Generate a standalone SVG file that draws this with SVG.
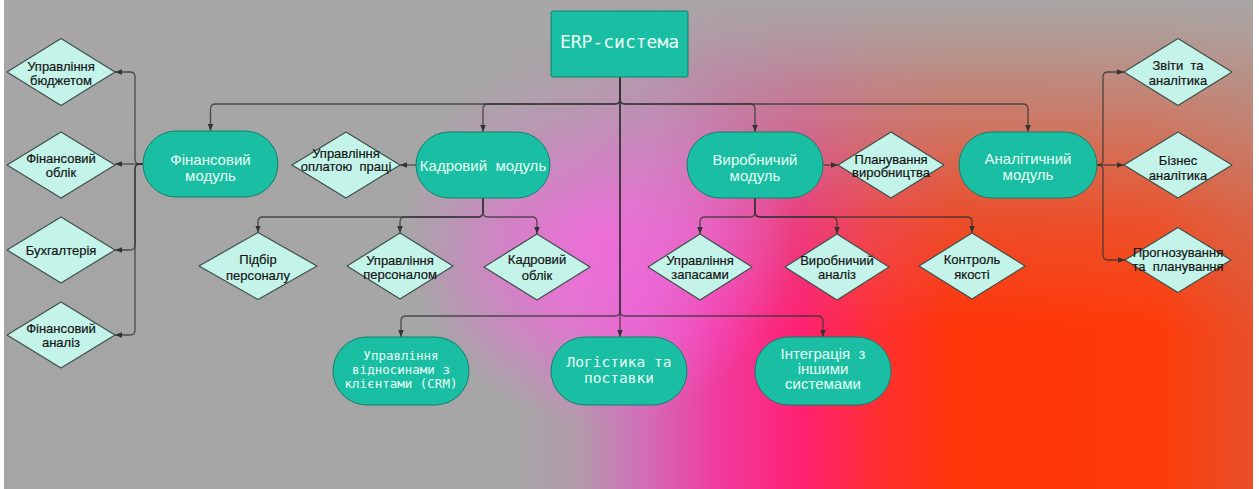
<svg xmlns="http://www.w3.org/2000/svg" width="1259" height="489" viewBox="0 0 1259 489">
  <defs>
    <!-- horizontal base wash: grey to magenta to red -->
    <linearGradient id="bgBase" gradientUnits="userSpaceOnUse" x1="4" y1="0" x2="1253" y2="0">
      <stop offset="0" stop-color="#a5a5a5"/>
      <stop offset="0.41" stop-color="#a6a6a6"/>
      <stop offset="0.46" stop-color="#b29aaa"/>
      <stop offset="0.51" stop-color="#d070b8"/>
      <stop offset="0.57" stop-color="#f03ca0"/>
      <stop offset="0.64" stop-color="#ff2070"/>
      <stop offset="0.70" stop-color="#ff3030"/>
      <stop offset="0.76" stop-color="#ff3408"/>
      <stop offset="0.92" stop-color="#ff3a08"/>
      <stop offset="1" stop-color="#e8502a"/>
    </linearGradient>
    <!-- magenta glow in the middle -->
    <radialGradient id="bgGlow" gradientUnits="userSpaceOnUse" cx="600" cy="230" r="195">
      <stop offset="0" stop-color="#ff5ee6" stop-opacity="0.95"/>
      <stop offset="0.45" stop-color="#ff5ee6" stop-opacity="0.65"/>
      <stop offset="1" stop-color="#ff5ee6" stop-opacity="0"/>
    </radialGradient>
    <!-- grey haze from the top edge -->
    <linearGradient id="bgTop" gradientUnits="userSpaceOnUse" x1="0" y1="0" x2="0" y2="330">
      <stop offset="0" stop-color="#a8a6a6" stop-opacity="1"/>
      <stop offset="0.15" stop-color="#a8a6a6" stop-opacity="0.85"/>
      <stop offset="0.4" stop-color="#a8a6a6" stop-opacity="0.55"/>
      <stop offset="0.67" stop-color="#a8a6a6" stop-opacity="0.22"/>
      <stop offset="1" stop-color="#a8a6a6" stop-opacity="0"/>
    </linearGradient>
    <marker id="arr" viewBox="0 0 8 8" refX="8" refY="4" markerWidth="7" markerHeight="7" orient="auto" markerUnits="userSpaceOnUse">
      <path d="M0,0.8 L8,4 L0,7.2 z" fill="#333"/>
    </marker>
  </defs>
  <style>
    .conn { fill: none; stroke: #333; stroke-opacity: 0.8; stroke-width: 1.3; marker-end: url(#arr); }
    .mod { fill: #19bea3; stroke: #12806d; stroke-width: 1; }
    .dia { fill: #c4f4e9; stroke: #3f4f4a; stroke-width: 1.2; stroke-linejoin: round; }
    .mt { font-family: "Liberation Sans", Arial, sans-serif; font-size: 15px; fill: #e8fff6; text-anchor: middle; }
    .mono { font-family: "DejaVu Sans Mono", "Liberation Mono", monospace; fill: #e8fff6; text-anchor: middle; }
    .dt { font-family: "Liberation Sans", Arial, sans-serif; font-size: 13px; fill: #151515; stroke: #151515; stroke-width: 0.2; text-anchor: middle; }
  </style>

  <!-- background -->
  <rect x="0" y="0" width="1259" height="489" fill="#ffffff"/>
  <rect x="4" y="0" width="1249" height="489" fill="url(#bgBase)"/>
  <rect x="4" y="0" width="1249" height="489" fill="url(#bgGlow)"/>
  <rect x="4" y="0" width="1249" height="489" fill="url(#bgTop)"/>

  <!-- connectors -->
  <g id="connectors">
    <path class="conn" d="M620 77 V99 Q620 104 615 104 H215.5 Q210.5 104 210.5 109 V131"/>
    <path class="conn" d="M620 77 V99 Q620 104 615 104 H488 Q483 104 483 109 V132"/>
    <path class="conn" d="M620 77 V99 Q620 104 625 104 H750 Q755 104 755 109 V132"/>
    <path class="conn" d="M620 77 V99 Q620 104 625 104 H1023 Q1028 104 1028 109 V132"/>
    <path class="conn" d="M620 77 V337"/>
    <path class="conn" d="M620 77 V311 Q620 316 615 316 H406 Q401 316 401 321 V337"/>
    <path class="conn" d="M620 77 V311 Q620 316 625 316 H818 Q823 316 823 321 V337"/>

    <path class="conn" d="M143 164 H115"/>
    <path class="conn" d="M143 164 H140 Q135 164 135 159 V77 Q135 72 130 72 H115"/>
    <path class="conn" d="M143 164 H140 Q135 164 135 169 V245 Q135 250 130 250 H115"/>
    <path class="conn" d="M143 164 H140 Q135 164 135 169 V330 Q135 335 130 335 H115"/>

    <path class="conn" d="M416 165 H400"/>
    <path class="conn" d="M483 198 V212 Q483 217 478 217 H263 Q258 217 258 222 V232.5"/>
    <path class="conn" d="M483 198 V212 Q483 217 478 217 H405 Q400 217 400 222 V233"/>
    <path class="conn" d="M483 198 V212 Q483 217 488 217 H532 Q537 217 537 222 V234"/>

    <path class="conn" d="M823 165 H838"/>
    <path class="conn" d="M755 197 V212 Q755 217 750 217 H705 Q700 217 700 222 V234"/>
    <path class="conn" d="M755 197 V212 Q755 217 760 217 H832 Q837 217 837 222 V234"/>
    <path class="conn" d="M755 197 V212 Q755 217 760 217 H967 Q972 217 972 222 V233"/>

    <path class="conn" d="M1097 165 H1124"/>
    <path class="conn" d="M1097 165 H1098 Q1103 165 1103 160 V77 Q1103 72 1108 72 H1124"/>
    <path class="conn" d="M1097 165 H1098 Q1103 165 1103 170 V255 Q1103 260 1108 260 H1125"/>
  </g>

  <!-- root -->
  <g id="erp">
    <rect class="mod" x="551" y="11" width="137" height="66" rx="2"/>
    <text class="mono" x="619.5" y="48" font-size="18">ERP-система</text>
  </g>

  <!-- modules -->
  <g id="fin-module">
    <rect class="mod" x="143" y="131" width="135" height="66" rx="33"/>
    <text class="mt" x="210.5" y="165">Фінансовий</text>
    <text class="mt" x="210.5" y="181">модуль</text>
  </g>
  <g id="hr-module">
    <rect class="mod" x="416" y="132" width="134" height="66" rx="33"/>
    <text class="mt" x="483" y="171" xml:space="preserve">Кадровий  модуль</text>
  </g>
  <g id="prod-module">
    <rect class="mod" x="687" y="132" width="136" height="66" rx="33"/>
    <text class="mt" x="755" y="165">Виробничий</text>
    <text class="mt" x="755" y="181">модуль</text>
  </g>
  <g id="analytics-module">
    <rect class="mod" x="959" y="132" width="138" height="66" rx="33"/>
    <text class="mt" x="1028" y="164">Аналітичний</text>
    <text class="mt" x="1028" y="180">модуль</text>
  </g>
  <g id="crm">
    <rect class="mod" x="333" y="337" width="136" height="68" rx="34"/>
    <text class="mono" x="401" y="360" font-size="12.5">Управління</text>
    <text class="mono" x="401" y="374" font-size="12.5">відносинами з</text>
    <text class="mono" x="401" y="388" font-size="12.5">клієнтами (CRM)</text>
  </g>
  <g id="logistics">
    <rect class="mod" x="551" y="337" width="136" height="68" rx="34"/>
    <text class="mono" x="619" y="367" font-size="14.5" xml:space="preserve">Логістика та</text>
    <text class="mono" x="619" y="383" font-size="14.5">поставки</text>
  </g>
  <g id="integration">
    <rect class="mod" x="755" y="337" width="136" height="68" rx="34"/>
    <text class="mt" x="823" y="359" font-size="14" xml:space="preserve">Інтеграція  з</text>
    <text class="mt" x="823" y="374" font-size="14">іншими</text>
    <text class="mt" x="823" y="389" font-size="14">системами</text>
  </g>

  <!-- finance sub-items -->
  <g id="budget">
    <polygon class="dia" points="7,72 61,38.5 115,72 61,105.5"/>
    <text class="dt" x="61" y="71">Управління</text>
    <text class="dt" x="61" y="85">бюджетом</text>
  </g>
  <g id="fin-accounting">
    <polygon class="dia" points="7,165 61,132 115,165 61,198"/>
    <text class="dt" x="61" y="163">Фінансовий</text>
    <text class="dt" x="61" y="177">облік</text>
  </g>
  <g id="bookkeeping">
    <polygon class="dia" points="7,250 61,217 115,250 61,283"/>
    <text class="dt" x="61" y="255">Бухгалтерія</text>
  </g>
  <g id="fin-analysis">
    <polygon class="dia" points="7,335 61,302 115,335 61,368"/>
    <text class="dt" x="61" y="333">Фінансовий</text>
    <text class="dt" x="61" y="347">аналіз</text>
  </g>

  <!-- HR sub-items -->
  <g id="payroll">
    <polygon class="dia" points="292,165 346,132 400,165 346,198"/>
    <text class="dt" x="346" y="158" font-size="11.5">Управління</text>
    <text class="dt" x="346" y="171" font-size="11.5" xml:space="preserve">оплатою  праці</text>
  </g>
  <g id="recruiting">
    <polygon class="dia" points="199,266 258,232.5 317,266 258,299.5"/>
    <text class="dt" x="258" y="264" font-size="15">Підбір</text>
    <text class="dt" x="258" y="280" font-size="15">персоналу</text>
  </g>
  <g id="staff-management">
    <polygon class="dia" points="347,266 400,233 453,266 400,299"/>
    <text class="dt" x="400" y="265" font-size="12">Управління</text>
    <text class="dt" x="400" y="279" font-size="12">персоналом</text>
  </g>
  <g id="hr-records">
    <polygon class="dia" points="484,267 537,234 590,267 537,300"/>
    <text class="dt" x="537" y="264" font-size="14.5">Кадровий</text>
    <text class="dt" x="537" y="280" font-size="14.5">облік</text>
  </g>

  <!-- production sub-items -->
  <g id="planning">
    <polygon class="dia" points="838,165 891,132 944,165 891,198"/>
    <text class="dt" x="891" y="164" font-size="12">Планування</text>
    <text class="dt" x="891" y="177" font-size="12">виробництва</text>
  </g>
  <g id="inventory">
    <polygon class="dia" points="648,267 700,234 752,267 700,300"/>
    <text class="dt" x="700" y="265" font-size="12">Управління</text>
    <text class="dt" x="700" y="279" font-size="12">запасами</text>
  </g>
  <g id="prod-analysis">
    <polygon class="dia" points="785,267 837,234 889,267 837,300"/>
    <text class="dt" x="837" y="265" font-size="12">Виробничий</text>
    <text class="dt" x="837" y="279" font-size="12">аналіз</text>
  </g>
  <g id="quality">
    <polygon class="dia" points="919,266 972,233 1025,266 972,299"/>
    <text class="dt" x="972" y="264" font-size="13.5">Контроль</text>
    <text class="dt" x="972" y="279" font-size="13.5">якості</text>
  </g>

  <!-- analytics sub-items -->
  <g id="reports">
    <polygon class="dia" points="1124,72 1178,38.5 1232,72 1178,105.5"/>
    <text class="dt" x="1178" y="70" font-size="13.5" xml:space="preserve">Звіти  та</text>
    <text class="dt" x="1178" y="85" font-size="13.5">аналітика</text>
  </g>
  <g id="bi">
    <polygon class="dia" points="1124,165 1178,132 1232,165 1178,198"/>
    <text class="dt" x="1178" y="165" font-size="13.5">Бізнес</text>
    <text class="dt" x="1178" y="180" font-size="13.5">аналітика</text>
  </g>
  <g id="forecasting">
    <polygon class="dia" points="1125,260 1178,227.5 1231,260 1178,292.5"/>
    <text class="dt" x="1178" y="257" font-size="12.5">Прогнозування</text>
    <text class="dt" x="1178" y="271" font-size="12.5" xml:space="preserve">та  планування</text>
  </g>
</svg>
